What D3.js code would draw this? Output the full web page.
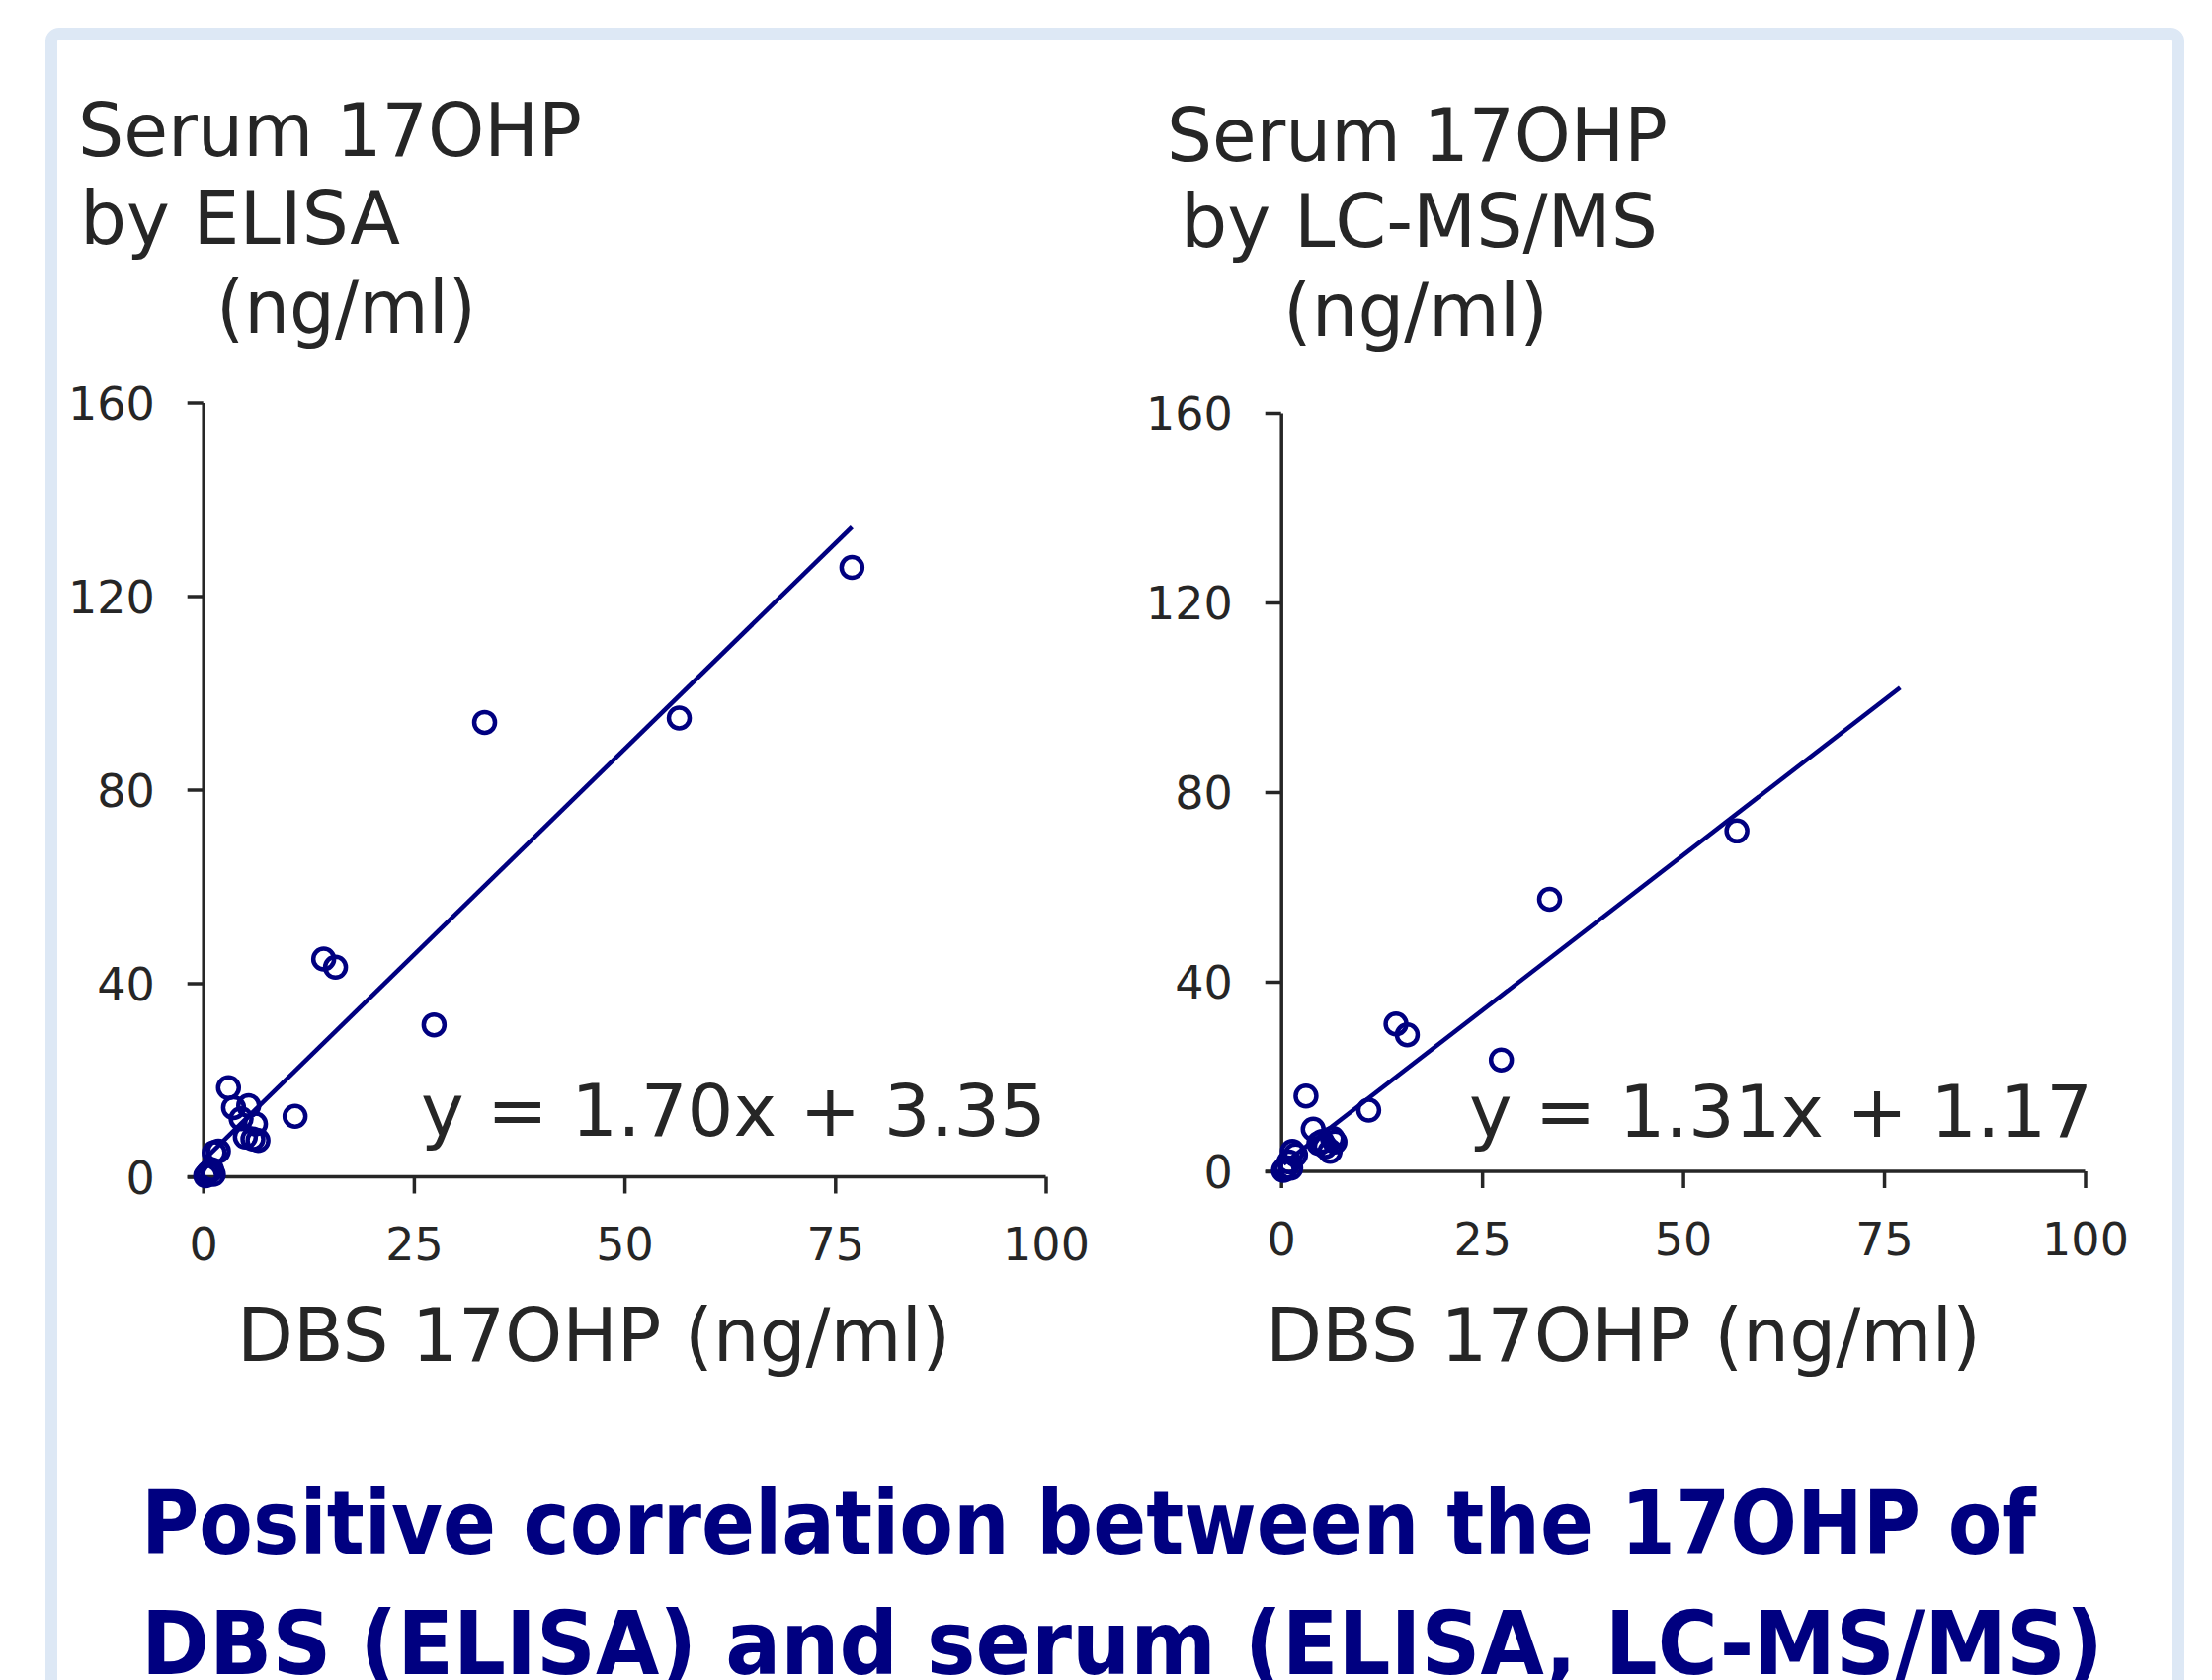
<!DOCTYPE html>
<html>
 <head>
   <title>17OHP correlation</title>
   <script type="text/javascript" src="https://cdn.jsdelivr.net/npm/d3@7"></script>
   <style type="text/css">
		body {
			margin: 0;
			background: #fff;
		}
		svg {
			display: block;
		}
		text {
			font-family: 'DejaVu Sans', Verdana, sans-serif;
			fill: #262626;
		}
		.axis path, .axis line {
			stroke: #262626;
			stroke-width: 3.5;
		}
		.fit {
			stroke: #000080;
			stroke-width: 4.5;
			fill: none;
		}
		circle.pt {
			stroke: #000080;
			stroke-width: 4.5;
			fill: none;
		}
   </style>
 </head>
 <body>
   <script type="text/javascript">

	// tick values shared by both panels
	var xTicks = [0, 25, 50, 75, 100];
	var yTicks = [0, 40, 80, 120, 160];

	// DBS 17OHP vs serum 17OHP by ELISA (ng/ml)
	var elisaX = [0.3, 0.6, 1.0, 1.2, 1.3, 1.8, 3.0, 3.6, 4.5, 5.4, 6.2, 5.0, 5.9, 6.5, 10.9, 14.3, 15.7, 27.4, 33.4, 56.5, 77.0];
	var elisaY = [0.2, 0.8, 1.5, 0.5, 5.0, 5.3, 18.4, 14.3, 12.0, 14.7, 10.9, 8.2, 7.8, 7.5, 12.5, 45.0, 43.3, 31.4, 93.9, 94.8, 125.9];

	// DBS 17OHP vs serum 17OHP by LC-MS/MS (ng/ml)
	var lcmsX = [0.3, 0.6, 1.0, 1.2, 1.4, 1.8, 3.1, 4.0, 4.7, 5.1, 5.5, 6.1, 6.4, 6.7, 10.9, 14.3, 15.7, 27.4, 33.4, 56.7];
	var lcmsY = [0.2, 0.8, 2.0, 0.7, 4.2, 3.5, 15.9, 8.9, 5.9, 6.3, 5.2, 4.2, 7.0, 6.2, 12.9, 31.1, 28.8, 23.5, 57.4, 71.8];

	// linear trend lines: y = slope*x + intercept, drawn from xMin to xMax
	var fitSlope = [1.70, 1.31];
	var fitIntercept = [3.35, 1.17];
	var fitXMin = [0.3, 0.3];
	var fitXMax = [77.0, 77.0];

	var titleLines = [
		['Serum 17OHP', 'by ELISA', '(ng/ml)'],
		['Serum 17OHP', 'by LC-MS/MS', '(ng/ml)']
	];
	var xTitle = 'DBS 17OHP (ng/ml)';
	var caption = ['Positive correlation between the 17OHP of', 'DBS (ELISA) and serum (ELISA, LC-MS/MS)'];

	var W = 2239, H = 1701;
	var svg = d3.select('body').append('svg')
		.attr('width', W)
		.attr('height', H);

	// light blue frame
	svg.append('rect')
		.attr('x', 52).attr('y', 34)
		.attr('width', 2153).attr('height', 1720)
		.attr('rx', 8)
		.attr('fill', '#fff')
		.attr('stroke', '#dde8f5')
		.attr('stroke-width', 12);

	// panel layout
	var panels = [
		{ xs: elisaX, ys: elisaY, x0: 205.7, x1: 1058.5, y0: 1191.5, y1: 407.5,
		  title: [ { x: 79, y: 158, w: 510 }, { x: 81, y: 247, w: 324 }, { x: 219, y: 337, w: 263 } ],
		  xt: { x: 240, w: 722 }, eq: { x: 1059, y: 1150, w: 633 } },
		{ xs: lcmsX, ys: lcmsY, x0: 1296.7, x1: 2110.5, y0: 1186, y1: 418,
		  title: [ { x: 1181, y: 163, w: 507 }, { x: 1195, y: 250, w: 483 }, { x: 1299, y: 340, w: 268 } ],
		  xt: { x: 1281, w: 724 }, eq: { x: 2118, y: 1151, w: 631 } }
	];

	panels.forEach(function(p, pi) {
		var x = d3.scaleLinear().domain([0, 100]).range([p.x0, p.x1]);
		var y = d3.scaleLinear().domain([0, 160]).range([p.y0, p.y1]);
		var g = svg.append('g');

		// y title
		g.selectAll('text.ttl').data(titleLines[pi])
			.enter().append('text')
			.attr('class', 'ttl')
			.attr('x', function(d, i) { return p.title[i].x })
			.attr('y', function(d, i) { return p.title[i].y })
			.attr('textLength', function(d, i) { return p.title[i].w })
			.attr('lengthAdjust', 'spacingAndGlyphs')
			.style('font-size', '75px')
			.text(function(d) { return d });

		// axes
		var ya = g.append('g')
			.attr('class', 'axis')
			.attr('transform', 'translate(' + p.x0 + ',0)')
			.call(d3.axisLeft(y).tickValues(yTicks).tickSize(16).tickSizeOuter(0).tickPadding(33));
		ya.selectAll('text').style('font-size', '46px').attr('dy', '0.36em')
			.attr('fill', '#262626').style('font-family', "'DejaVu Sans', sans-serif");

		var xa = g.append('g')
			.attr('class', 'axis')
			.attr('transform', 'translate(0,' + p.y0 + ')')
			.call(d3.axisBottom(x).tickValues(xTicks).tickSize(17).tickSizeOuter(0).tickPadding(35));
		xa.selectAll('text').style('font-size', '46px')
			.attr('fill', '#262626').style('font-family', "'DejaVu Sans', sans-serif");
		// x axis line runs a bit past the y axis, like the original
		xa.select('.domain').attr('d', 'M' + (p.x0 - 16) + ',0H' + p.x1);

		// x title
		g.append('text')
			.attr('x', p.xt.x)
			.attr('y', 1378)
			.attr('textLength', p.xt.w)
			.attr('lengthAdjust', 'spacingAndGlyphs')
			.style('font-size', '75px')
			.text(xTitle);

		// trend line
		var fx = [fitXMin[pi], fitXMax[pi]];
		g.append('path')
			.attr('class', 'fit')
			.attr('d', d3.line()
				.x(function(d) { return x(d) })
				.y(function(d) { return y(fitSlope[pi] * d + fitIntercept[pi]) })(fx));

		// equation
		g.append('text')
			.attr('x', p.eq.x)
			.attr('y', p.eq.y)
			.attr('text-anchor', 'end')
			.attr('textLength', p.eq.w)
			.attr('lengthAdjust', 'spacingAndGlyphs')
			.style('font-size', '73px')
			.text('y = ' + fitSlope[pi].toFixed(2) + 'x + ' + fitIntercept[pi].toFixed(2));

		// points
		g.selectAll('circle.pt').data(p.xs)
			.enter().append('circle')
			.attr('class', 'pt')
			.attr('cx', function(d) { return x(d) })
			.attr('cy', function(d, i) { return y(p.ys[i]) })
			.attr('r', 10.5);
	});

	// caption: condensed bold, drawn smaller and stretched up so it stays inside the page
	var capY = [1573, 1695], capW = [1918, 1986];
	svg.selectAll('text.cap').data(caption)
		.enter().append('text')
		.attr('class', 'cap')
		.attr('transform', function(d, i) { return 'translate(143,' + capY[i] + ') scale(1,1.27)' })
		.attr('textLength', function(d, i) { return capW[i] })
		.attr('lengthAdjust', 'spacingAndGlyphs')
		.style('font-size', '70px')
		.style('font-weight', 'bold')
		.style('fill', '#000080')
		.text(function(d) { return d });

    </script>
 </body>
</html>
